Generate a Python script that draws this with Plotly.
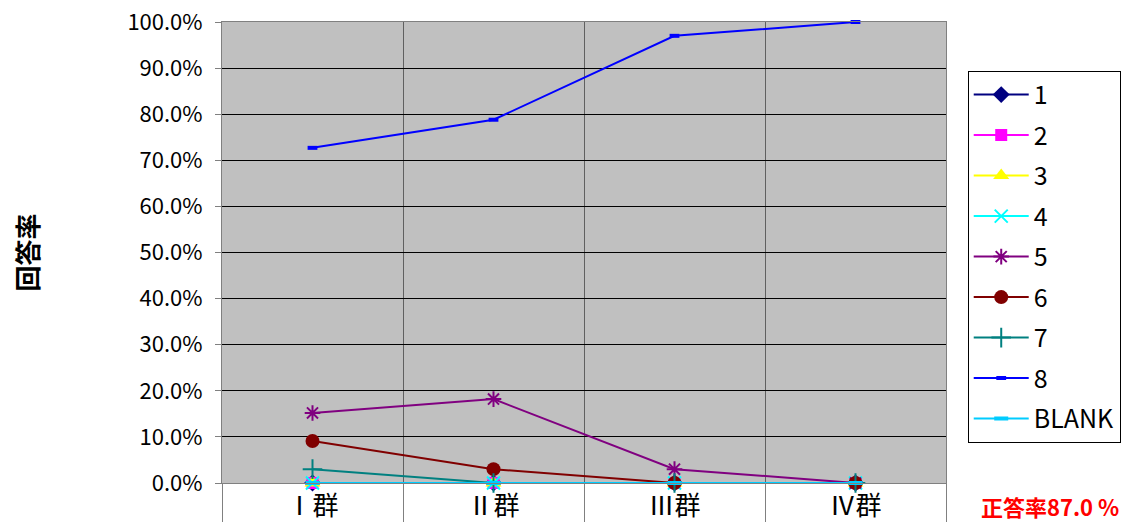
import plotly.graph_objects as go

FONT = "Noto Sans CJK JP"

groups = ["Ⅰ群", "Ⅱ群", "Ⅲ群", "Ⅳ群"]
names = ["1", "2", "3", "4", "5", "6", "7", "8", "BLANK"]

s1 = [0.0, 0.0, 0.0, 0.0]
s2 = [0.0, 0.0, 0.0, 0.0]
s3 = [0.0, 0.0, 0.0, 0.0]
s4 = [0.0, 0.0, 0.0, 0.0]
s5 = [0.152, 0.182, 0.030, 0.0]
s6 = [0.091, 0.030, 0.0, 0.0]
s7 = [0.030, 0.0, 0.0, 0.0]
s8 = [0.727, 0.788, 0.970, 1.000]
s_blank = [0.0, 0.0, 0.0, 0.0]

series = [s1, s2, s3, s4, s5, s6, s7, s8, s_blank]

colors = ["#000080", "#FF00FF", "#FFFF00", "#00FFFF", "#800080",
          "#800000", "#008080", "#0000FF", "#00CCFF"]
symbols = ["diamond", "square", "triangle-up", "x-thin", "asterisk",
           "circle", "cross-thin", "line-ew", "line-ew"]
sizes = [13, 12, 14, 13, 13, 14, 14, 7, 10]

fig = go.Figure()

for name, vals, c, sym, sz in zip(names, series, colors, symbols, sizes):
    thin = sym in ("x-thin", "asterisk", "cross-thin", "line-ew")
    lw = 4 if sym == "line-ew" else (2 if thin else 0)
    fig.add_trace(go.Scatter(
        x=groups, y=vals, name=name, legendgroup=name,
        mode="lines+markers",
        line=dict(color=c, width=2),
        marker=dict(symbol=sym, size=sz, color=c,
                    line=dict(color=c, width=lw)),
        cliponaxis=False,
    ))

# page body has an 8px margin, so the figure is laid out 8px smaller
fig.add_annotation(text="<b>正答率87.0 %</b>", xref="paper", yref="paper",
                   x=1.144, y=-0.05, xanchor="center", yanchor="middle",
                   showarrow=False,
                   font=dict(family=FONT, size=22, color="#FF0000"))

fig.update_layout(
    width=1135, height=514,
    paper_bgcolor="white", plot_bgcolor="#C0C0C0",
    margin=dict(l=214, r=197, t=14, b=39, autoexpand=False),
    font=dict(family=FONT, color="black", size=22),
    xaxis=dict(type="category", tickson="boundaries", ticks="outside",
               ticklen=39, tickcolor="#808080", tickwidth=1,
               showgrid=True, gridcolor="#606060", gridwidth=1,
               showline=True, linecolor="#808080", mirror=True,
               automargin=False,
               tickfont=dict(family=FONT, size=26), range=[-0.5, 3.5]),
    yaxis=dict(range=[0, 1], dtick=0.1, tickformat=".1%",
               showgrid=True, gridcolor="black", gridwidth=1,
               zeroline=False, ticks="outside", ticklen=6,
               tickcolor="#808080", automargin=False,
               ticklabelstandoff=8, ticklabeloverflow="allow",
               showline=True, linecolor="#808080", mirror=True,
               tickfont=dict(family=FONT, size=22),
               title=dict(text="<b>回答率</b>", standoff=104,
                          font=dict(family=FONT, size=26))),
    legend=dict(x=1.03, y=0.894, xanchor="left", yanchor="top",
                bgcolor="white", bordercolor="black", borderwidth=1,
                font=dict(family=FONT, size=25), tracegroupgap=5,
                traceorder="grouped", itemwidth=55),
)

fig.write_html("out.html")
